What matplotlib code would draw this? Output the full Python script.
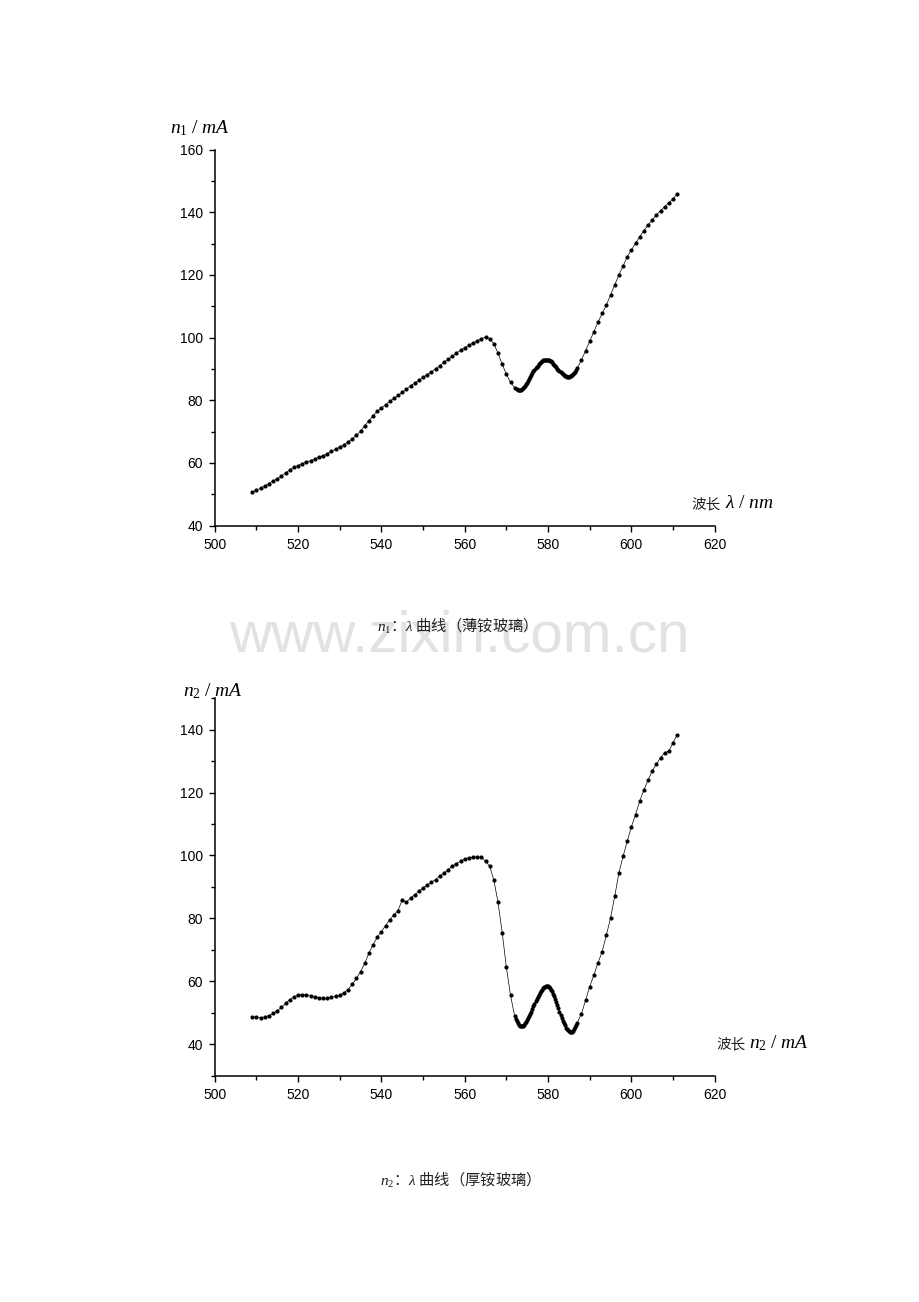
import matplotlib
matplotlib.use("Agg")
import matplotlib.pyplot as plt
from matplotlib.ticker import MultipleLocator

plt.rcParams["font.family"] = ["Liberation Sans", "Noto Sans CJK SC", "DejaVu Sans"]
plt.rcParams["mathtext.fontset"] = "custom"
plt.rcParams["mathtext.it"] = "Liberation Serif:italic"
plt.rcParams["mathtext.rm"] = "Liberation Serif"
plt.rcParams["mathtext.cal"] = "Liberation Serif:italic"

# ---- thin Nd glass: n1 vs wavelength (nm) ----
wl1 = [509, 510, 511, 512, 513, 514, 515, 516, 517, 518, 519, 520, 521, 522, 523, 524,
       525, 526, 527, 528, 529, 530, 531, 532, 533, 534, 535, 536, 537, 538, 539, 540,
       541, 542, 543, 544, 545, 546, 547, 548, 549, 550, 551, 552, 553, 554, 555, 556,
       557, 558, 559, 560, 561, 562, 563, 564, 565, 566, 567, 568, 569, 570, 571, 572,
       572.5, 572.75, 573.0, 573.25, 573.5, 573.75, 574.0, 574.25, 574.5, 574.75, 575.0,
       575.25, 575.5, 575.75, 576.0, 576.25, 576.5, 576.75, 577.0, 577.25, 577.5, 577.75,
       578.0, 578.25, 578.5, 578.75, 579.0, 579.25, 579.5, 579.75, 580.0, 580.25, 580.5,
       580.75, 581.0, 581.25, 581.5, 581.75, 582.0, 582.25, 582.5, 582.75, 583.0, 583.25,
       583.5, 583.75, 584.0, 584.25, 584.5, 584.75, 585.0, 585.25, 585.5, 585.75, 586.0,
       586.25, 586.5, 586.75, 587.0,
       588, 589, 590, 591, 592, 593, 594, 595, 596, 597, 598, 599, 600, 601, 602, 603,
       604, 605, 606, 607, 608, 609, 610, 611]
n1 = [50.6, 51.4, 51.9, 52.7, 53.4, 54.3, 55.0, 55.8, 56.8, 57.8, 58.6, 59.2, 59.8, 60.3, 60.7, 61.3,
      61.8, 62.3, 63.0, 63.7, 64.4, 65.1, 65.8, 66.7, 67.7, 68.8, 70.2, 71.8, 73.5, 75.1, 76.5, 77.5,
      78.6, 79.7, 80.6, 81.6, 82.5, 83.5, 84.6, 85.5, 86.4, 87.3, 88.2, 89.0, 90.1, 91.0, 92.1, 93.1,
      94.0, 95.0, 96.0, 96.8, 97.5, 98.3, 99.0, 99.7, 100.1, 99.7, 98.0, 95.0, 91.5, 88.3, 85.7, 84.0,
      83.6, 83.4, 83.2, 83.2, 83.3, 83.5, 83.8, 84.2, 84.6, 85.1, 85.6,
      86.2, 86.8, 87.4, 88.0, 88.6, 89.2, 89.7, 90.2, 90.7, 91.1, 91.5,
      91.9, 92.2, 92.5, 92.7, 92.8, 92.9, 93.0, 93.0, 92.9, 92.8, 92.6,
      92.4, 92.1, 91.7, 91.3, 90.9, 90.5, 90.1, 89.7, 89.3, 88.9, 88.6,
      88.3, 88.0, 87.8, 87.6, 87.5, 87.5, 87.5, 87.6, 87.8, 88.0, 88.3,
      88.7, 89.1, 89.6, 90.2,
      92.8, 95.8, 98.8, 101.9, 105.0, 107.7, 110.4, 113.6, 116.8, 120.0, 122.8, 125.8, 127.9, 130.1, 132.2, 134.1,
      135.9, 137.5, 139.1, 140.5, 141.8, 143.0, 144.3, 145.8]

# ---- thick Nd glass: n2 vs wavelength (nm) ----
wl2 = [509, 510, 511, 512, 513, 514, 515, 516, 517, 518, 519, 520, 521, 522, 523, 524,
       525, 526, 527, 528, 529, 530, 531, 532, 533, 534, 535, 536, 537, 538, 539, 540,
       541, 542, 543, 544, 545, 546, 547, 548, 549, 550, 551, 552, 553, 554, 555, 556,
       557, 558, 559, 560, 561, 562, 563, 564, 565, 566, 567, 568, 569, 570, 571, 572,
       572.25, 572.5, 572.75, 573.0, 573.25, 573.5, 573.75, 574.0, 574.25, 574.5, 574.75,
       575.0, 575.25, 575.5, 575.75, 576.0, 576.25, 576.5, 576.75, 577.0, 577.25, 577.5,
       577.75, 578.0, 578.25, 578.5, 578.75, 579.0, 579.25, 579.5, 579.75, 580.0, 580.25,
       580.5, 580.75, 581.0, 581.25, 581.5, 581.75, 582.0, 582.25, 582.5, 582.75, 583.0,
       583.25, 583.5, 583.75, 584.0, 584.25, 584.5, 584.75, 585.0, 585.25, 585.5, 585.75,
       586.0, 586.25, 586.5, 586.75, 587.0,
       588, 589, 590, 591, 592, 593, 594, 595, 596, 597, 598, 599, 600, 601, 602, 603,
       604, 605, 606, 607, 608, 609, 610, 611]
n2 = [48.7, 48.6, 48.4, 48.7, 49.1, 49.8, 50.6, 51.7, 53.0, 54.2, 55.1, 55.6, 55.8, 55.7, 55.4, 55.1,
      54.8, 54.6, 54.6, 54.9, 55.2, 55.6, 56.4, 57.4, 59.0, 60.9, 63.1, 65.7, 68.9, 71.6, 74.0, 75.8,
      77.7, 79.6, 81.1, 82.5, 85.9, 85.1, 86.5, 87.5, 88.6, 89.7, 90.6, 91.5, 92.3, 93.4, 94.4, 95.5,
      96.6, 97.4, 98.2, 98.9, 99.3, 99.5, 99.5, 99.4, 98.2, 96.6, 92.1, 85.1, 75.5, 64.5, 55.5, 48.9,
      48.1, 47.3, 46.6, 46.1, 45.8, 45.7, 45.7, 45.9, 46.2, 46.6, 47.1,
      47.6, 48.2, 48.9, 49.6, 50.4, 51.2, 52.0, 52.8, 53.6, 54.4, 55.1,
      55.8, 56.4, 56.9, 57.4, 57.8, 58.1, 58.3, 58.4, 58.4, 58.4, 58.2,
      57.9, 57.4, 56.8, 56.1, 55.3, 54.4, 53.4, 52.4, 51.4, 50.4, 49.4,
      48.4, 47.5, 46.7, 46.0, 45.3, 44.8, 44.4, 44.1, 43.9, 43.9, 44.0,
      44.3, 44.8, 45.4, 46.1, 46.9,
      49.6, 54.0, 58.3, 62.0, 65.9, 69.4, 74.8, 80.1, 87.0, 94.4, 99.7, 104.5, 109.1, 113.0, 117.3, 120.8,
      123.9, 126.9, 129.0, 131.1, 132.7, 133.2, 135.9, 138.3]

W, H = 920, 1302
fig = plt.figure(figsize=(W / 100, H / 100), dpi=100)


def px(x, y):
    return x / W, 1 - y / H


def style(ax, ylim):
    ax.set_xlim(500, 620)
    ax.set_ylim(*ylim)
    ax.xaxis.set_major_locator(MultipleLocator(20))
    ax.xaxis.set_minor_locator(MultipleLocator(10))
    ax.yaxis.set_major_locator(MultipleLocator(20))
    ax.yaxis.set_minor_locator(MultipleLocator(10))
    for sp in ("right", "top"):
        ax.spines[sp].set_visible(False)
    for sp in ("left", "bottom"):
        ax.spines[sp].set_linewidth(1.1)
    ax.tick_params(which="major", direction="out", length=4.5, width=1.0, labelsize=10, pad=4)
    ax.tick_params(which="minor", direction="out", length=3, width=1.0)
    ax.set_facecolor("none")


# watermark (behind everything)
fig.text(*px(459, 636), "www.zixin.com.cn", ha="center", va="center", fontsize=42,
         color="#e2e2e2", family="Liberation Sans", zorder=0)

ax1 = fig.add_axes([214.7 / W, 1 - 525.7 / H, 500 / W, 376.2 / H])
ax1.plot(wl1, n1, "-", color="black", lw=0.5, marker="o", ms=2.0, mec="black", mfc="black")
style(ax1, (40, 160))

ax2 = fig.add_axes([214.7 / W, 1 - 1075.7 / H, 500 / W, 377.5 / H])
ax2.plot(wl2, n2, "-", color="black", lw=0.5, marker="o", ms=2.0, mec="black", mfc="black")
style(ax2, (30, 150))
ax2.set_yticks([40, 60, 80, 100, 120, 140])

# axis titles
fig.text(*px(170, 133), r"$n_1\ /\ mA$", fontsize=14, ha="left", va="baseline")
fig.text(*px(183, 696), r"$n_2\ /\ mA$", fontsize=14, ha="left", va="baseline")

fig.text(*px(721, 508), "波长", fontsize=10.5, ha="right", va="baseline",
         family=["Noto Sans CJK SC", "DejaVu Sans"], color="#222222")
fig.text(*px(725, 508), r"$\lambda\ /\ nm$", fontsize=14, ha="left", va="baseline")

fig.text(*px(746, 1048), "波长", fontsize=10.5, ha="right", va="baseline",
         family=["Noto Sans CJK SC", "DejaVu Sans"], color="#222222")
fig.text(*px(749, 1048), r"$n_2\ /\ mA$", fontsize=14, ha="left", va="baseline")

# captions
fig.text(*px(453, 632), r"$n_1$：$\lambda$ 曲线（薄铵玻璃）", fontsize=11, ha="center",
         va="baseline", family=["Noto Sans CJK SC", "DejaVu Sans"], color="#222222")
fig.text(*px(456, 1186), r"$n_2$：$\lambda$ 曲线（厚铵玻璃）", fontsize=11, ha="center",
         va="baseline", family=["Noto Sans CJK SC", "DejaVu Sans"], color="#222222")

fig.savefig("out.png", dpi=100)
